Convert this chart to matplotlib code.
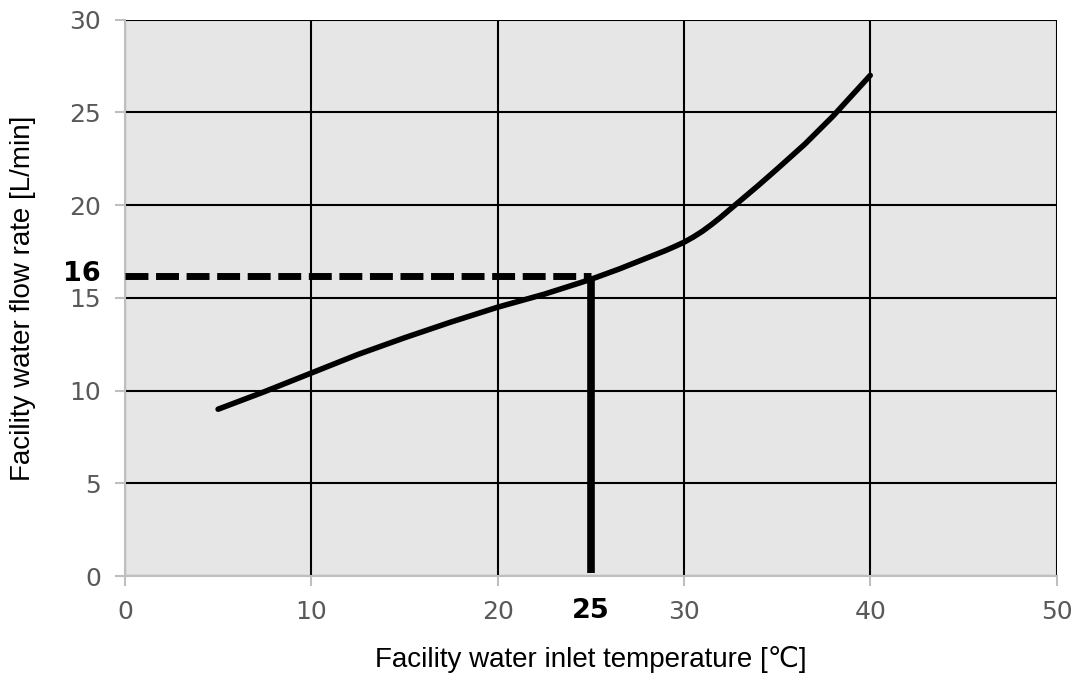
import matplotlib.pyplot as plt

# curve
temp_c = [5, 7.5, 10, 12.5, 15, 17.5, 20, 22.5, 25, 26.5, 28, 29, 29.5, 30, 30.5, 31,
          31.5, 32, 32.5, 33, 34, 35, 36.5, 38, 39, 40]
flow_lpm = [9.0, 9.95, 10.95, 11.95, 12.85, 13.7, 14.5, 15.2, 16.0, 16.55, 17.15, 17.55,
            17.77, 18.0, 18.28, 18.6, 18.97, 19.37, 19.8, 20.22, 21.07, 21.95, 23.3,
            24.8, 25.9, 27.0]

# operating point marked on the chart
point_temp = 25
point_flow = 16.2
point_flow_label = "16"
point_temp_label = "25"

x_ticks = [0, 10, 20, 30, 40, 50]
y_ticks = [0, 5, 10, 15, 20, 25, 30]

label_family = ["Liberation Sans", "DejaVu Sans", "Noto Sans CJK JP"]

fig = plt.figure(figsize=(10.77, 6.81), dpi=100)
ax = fig.add_axes([0.116, 0.154, 0.865, 0.817])
ax.set_facecolor("#e6e6e6")
ax.set_xlim(0, 50)
ax.set_ylim(0, 30)
ax.set_xticks(x_ticks)
ax.set_yticks(y_ticks)
ax.set_axisbelow(True)
ax.grid(True, color="black", linewidth=1.5)

for side in ("top", "right"):
    ax.spines[side].set_visible(False)
for side in ("left", "bottom"):
    ax.spines[side].set_color("#bfbfbf")
    ax.spines[side].set_linewidth(1.5)
    ax.spines[side].set_zorder(3)

ax.tick_params(colors="#bfbfbf", labelcolor="#595959", length=7, width=1.5,
               labelsize=18, pad=10)

ax.plot(temp_c, flow_lpm, color="black", linewidth=4, solid_capstyle="round",
        solid_joinstyle="round", zorder=4)
ax.plot([0, point_temp], [point_flow, point_flow], color="black", linewidth=5,
        dashes=(3.3, 1.1), zorder=4)
ax.plot([point_temp, point_temp], [0.15, point_flow], color="black", linewidth=5.5,
        solid_capstyle="butt", zorder=4)

ax.annotate(point_flow_label, xy=(0, point_flow), xycoords=("axes fraction", "data"),
            xytext=(-24, 2), textcoords="offset pixels", ha="right", va="center",
            fontsize=19.5, fontweight="bold", color="black", annotation_clip=False)
ax.annotate(point_temp_label, xy=(point_temp, 0), xycoords=("data", "axes fraction"),
            xytext=(0, -22), textcoords="offset pixels", ha="center", va="top",
            fontsize=19.5, fontweight="bold", color="black", annotation_clip=False)

ax.set_xlabel("Facility water inlet temperature [\u2103]", family=label_family,
              fontsize=20, labelpad=16)
ax.set_ylabel("Facility water flow rate [L/min]", family=label_family,
              fontsize=20, labelpad=24)

fig.savefig("out.png", dpi=100)
plt.close(fig)
